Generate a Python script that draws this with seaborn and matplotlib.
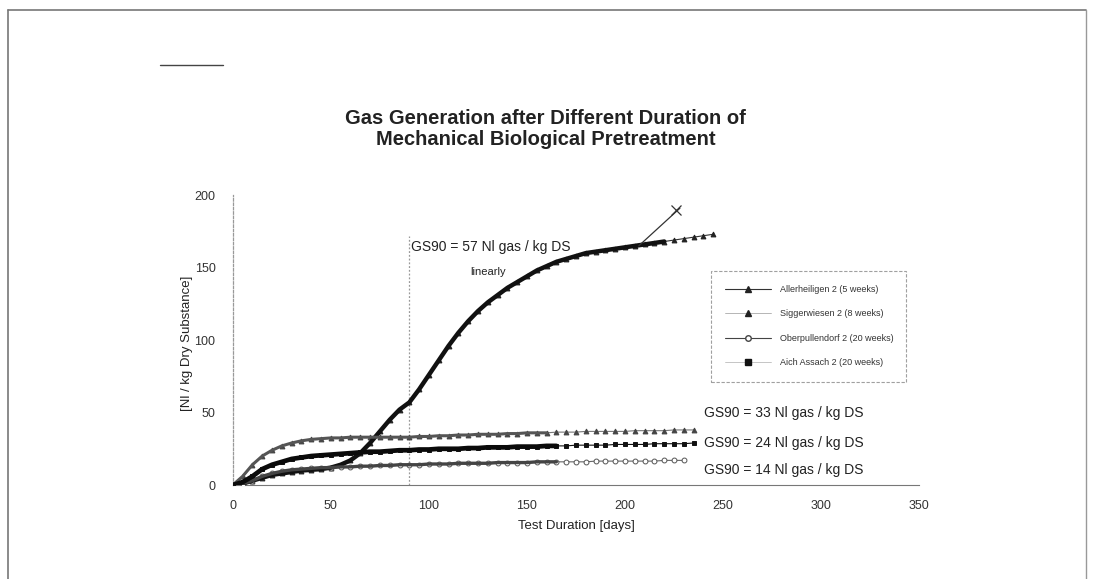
import numpy as np
import pandas as pd
import matplotlib
matplotlib.use("Agg")
import matplotlib.pyplot as plt
from matplotlib.lines import Line2D
import seaborn as sns

sns.set_theme(style="white")
plt.rcParams["font.family"] = ["Liberation Sans", "DejaVu Sans"]

# --- data -------------------------------------------------------------
series_names = [
    "Allerheiligen 2 (5 weeks)",
    "Siggerwiesen 2 (8 weeks)",
    "Oberpullendorf 2 (20 weeks)",
    "Aich Assach 2 (20 weeks)",
]

days_a = list(range(0, 250, 5))
gas_a = [0, 1, 3, 5, 7, 8, 9, 10, 10.5, 11, 12, 14, 17, 22, 29, 37, 45, 52, 57,
         66, 76, 86, 96, 105, 113, 120, 126, 131, 136, 140, 144, 148, 151, 154,
         156, 158, 160, 161, 162, 163, 164, 165, 166, 167, 168, 169, 170, 171,
         172, 173]

days_b = list(range(0, 240, 5))
gas_b = [0, 6, 14, 20, 24, 27, 29, 30.5, 31.5, 32, 32.5, 32.5, 33, 33, 33, 33,
         33, 33, 33, 33.5, 33.5, 34, 34, 34.5, 34.5, 35, 35, 35, 35.5, 35.5, 36,
         36, 36, 36.5, 36.5, 36.5, 37, 37, 37, 37, 37, 37.5, 37.5, 37.5, 37.5,
         38, 38, 38]

days_c = list(range(0, 235, 5))
gas_c = [0, 1, 3, 6, 8, 9.5, 10.5, 11, 11.5, 12, 12, 12.5, 12.5, 13, 13, 13.5,
         13.5, 14, 14, 14, 14.5, 14.5, 14.5, 15, 15, 15, 15, 15.5, 15.5, 15.5,
         15.5, 16, 16, 16, 16, 16, 16, 16.5, 16.5, 16.5, 16.5, 16.5, 16.5, 16.5,
         17, 17, 17]

days_d = list(range(0, 240, 5))
gas_d = [0, 2, 6, 11, 14, 16, 18, 19, 20, 20.5, 21, 21.5, 22, 22.5, 23, 23, 23.5,
         24, 24, 24.5, 24.5, 25, 25, 25, 25.5, 25.5, 26, 26, 26, 26.5, 26.5, 26.5,
         27, 27, 27, 27.5, 27.5, 27.5, 27.5, 28, 28, 28, 28, 28.5, 28.5, 28.5,
         28.5, 29]

# last day of continuous (daily) logging for each run
daily_until = [220, 160, 165, 165]

annotations = [
    (91, 164, "GS90 = 57 Nl gas / kg DS", 10),
    (121, 147, "linearly", 8),
    (240.5, 50, "GS90 = 33 Nl gas / kg DS", 10),
    (240.5, 29, "GS90 = 24 Nl gas / kg DS", 10),
    (240.5, 10.5, "GS90 = 14 Nl gas / kg DS", 10),
]

# --- figure -----------------------------------------------------------
fig = plt.figure(figsize=(10.93, 5.79), dpi=100)
ax = fig.add_axes([0.213, 0.1623, 0.628, 0.5007])

styles = [
    dict(marker="^", mfc="#222222", mec="#222222", ms=3.5, color="#333333"),
    dict(marker="^", mfc="#444444", mec="#444444", ms=3.5, color="#777777"),
    dict(marker="o", mfc="white", mec="#555555", ms=3.5, color="#666666"),
    dict(marker="s", mfc="#111111", mec="#111111", ms=3.5, color="#111111"),
]
thick = [3.2, 2.2, 2.4, 3.4]
thick_col = ["#111111", "#555555", "#444444", "#0a0a0a"]

all_days = [days_a, days_b, days_c, days_d]
all_gas = [gas_a, gas_b, gas_c, gas_d]

for name, d, g, st, lim, lw, tc in zip(series_names, all_days, all_gas, styles,
                                       daily_until, thick, thick_col):
    df = pd.DataFrame({"day": d, "gas": g})
    sns.lineplot(data=df, x="day", y="gas", ax=ax, lw=0.8, color=st["color"],
                 marker=st["marker"], markerfacecolor=st["mfc"],
                 markeredgecolor=st["mec"], markersize=st["ms"],
                 markeredgewidth=0.7, zorder=3)
    dense = df[df["day"] <= lim]
    sns.lineplot(data=dense, x="day", y="gas", ax=ax, lw=lw, color=tc, zorder=4)

# day-90 reference line
ax.axvline(90, ymin=0, ymax=0.86, color="#999999", lw=0.9, ls=(0, (1.5, 1.5)), zorder=1)

# hand-drawn extrapolation stroke
ax.plot([207, 228], [165, 191], color="#333333", lw=0.9, zorder=5)
ax.plot([226], [190], marker="x", color="#333333", ms=7, mew=0.9, zorder=5)

for x, y, t, fs in annotations:
    ax.text(x, y, t, fontsize=fs, color="#222222", ha="left", va="center")

ax.set_xlim(0, 350)
ax.set_ylim(0, 200)
ax.set_xticks(range(0, 351, 50))
ax.set_yticks(range(0, 201, 50))
ax.tick_params(axis="both", labelsize=9, labelcolor="#333333", length=3,
               width=0.7, color="#666666", direction="inout")
ax.tick_params(axis="x", pad=9)
ax.tick_params(axis="y", pad=11)
ax.set_xlabel("Test Duration [days]", fontsize=9.5, color="#222222", labelpad=6)
ax.set_ylabel("[Nl / kg Dry Substance]", fontsize=9.5, color="#222222")
ax.yaxis.set_label_coords(-0.058, 0.49)
for s in ["top", "right"]:
    ax.spines[s].set_visible(False)
ax.spines["bottom"].set_color("#777777")
ax.spines["bottom"].set_linewidth(0.8)
ax.spines["left"].set_color("#999999")
ax.spines["left"].set_linewidth(0.9)
ax.spines["left"].set_linestyle((0, (2, 1.5)))
ax.grid(False)

handles = [
    Line2D([], [], color="#333333", lw=0.8, marker="^", mfc="#222222", mec="#222222", ms=4),
    Line2D([], [], color="#aaaaaa", lw=0.6, marker="^", mfc="#222222", mec="#222222", ms=4),
    Line2D([], [], color="#444444", lw=0.8, marker="o", mfc="white", mec="#444444", ms=4),
    Line2D([], [], color="#bbbbbb", lw=0.6, marker="s", mfc="#111111", mec="#111111", ms=4),
]
leg = ax.legend(handles, series_names, loc="upper left",
                bbox_to_anchor=(0.69, 0.36, 0.297, 0.395), mode="expand",
                fontsize=6.5, frameon=True, handlelength=5, labelspacing=1.7,
                borderpad=1.6, handletextpad=1.0, fancybox=False)
for t in leg.get_texts():
    t.set_color("#333333")
leg.get_frame().set_edgecolor("#888888")
leg.get_frame().set_linewidth(0.8)
leg.get_frame().set_linestyle((0, (3, 1.5)))

fig.text(0.499, 0.777, "Gas Generation after Different Duration of\nMechanical Biological Pretreatment",
         ha="center", va="center", fontsize=14.5, fontweight="bold", color="#222222",
         linespacing=1.1)

# page edges of the scanned sheet
fig.add_artist(Line2D([0.0075, 0.994], [0.982, 0.982], color="#777777", lw=1.2))
fig.add_artist(Line2D([0.0075, 0.0075], [0.0, 0.982], color="#777777", lw=1.2))
fig.add_artist(Line2D([0.994, 0.994], [0.0, 0.982], color="#999999", lw=1.0))
fig.add_artist(Line2D([0.146, 0.204], [0.888, 0.888], color="#444444", lw=1.0))

fig.savefig("out.png", dpi=100)
